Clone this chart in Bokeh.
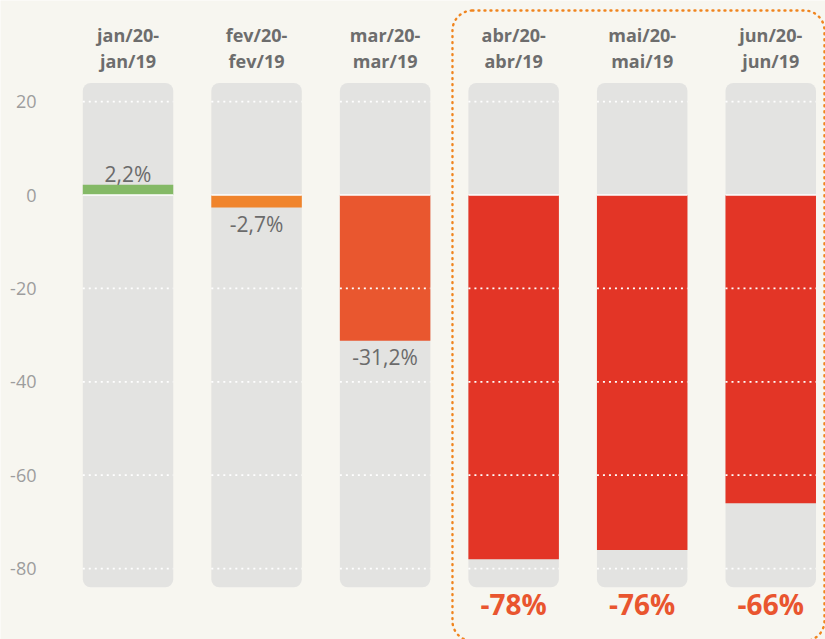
from bokeh.plotting import figure
from bokeh.models import Range1d
from bokeh.core.properties import value
from bokeh.embed import file_html
from bokeh.resources import INLINE

# ---- data ----
categories = ["jan/20-\njan/19", "fev/20-\nfev/19", "mar/20-\nmar/19",
              "abr/20-\nabr/19", "mai/20-\nmai/19", "jun/20-\njun/19"]
changes = [2.2, -2.7, -31.2, -78, -76, -66]
change_labels = ["2,2%", "-2,7%", "-31,2%", "-78%", "-76%", "-66%"]
bar_colors = ["#84b966", "#f0842c", "#e9572f", "#e33526", "#e33526", "#e33526"]
y_ticks = [20, 0, -20, -40, -60, -80]
y_tick_labels = ["20", "0", "-20", "-40", "-60", "-80"]
dotted_grid = [20, -20, -40, -60, -80]
highlight_idx = [3, 4, 5]
track_top = 24
track_bottom = -84

BG = "#f7f6f0"
TRACK = "#e3e3e1"
FONT = "Open Sans"
W = 0.704

xs = list(range(len(categories)))

p = figure(width=825, height=639, output_backend="svg", toolbar_location=None,
           x_range=Range1d(-0.992, 5.426), y_range=Range1d(-95.18, 41.65),
           min_border=0)
p.background_fill_color = BG
p.border_fill_color = BG
p.outline_line_color = None
p.xgrid.visible = False
p.ygrid.visible = False
p.xaxis.visible = False
p.yaxis.visible = False

# highlight frame
p.quad(left=[min(highlight_idx) - 0.476], right=[max(highlight_idx) + 0.418],
       top=[39.5], bottom=[-95.5],
       fill_color=None, line_color="#f0851f", line_width=2.4, line_dash="1 5",
       line_cap="round", border_radius=20)

# tracks
p.vbar(x=xs, width=W, top=[track_top] * len(xs), bottom=[track_bottom] * len(xs),
       fill_color=TRACK, line_color=None, border_radius=8)

# value bars
p.vbar(x=xs, width=W, top=[max(v, 0) for v in changes], bottom=[min(v, 0) for v in changes],
       fill_color=bar_colors, line_color=None)

# dotted gridlines inside tracks
gx0, gx1, gy = [], [], []
for i in xs:
    for g in dotted_grid:
        gx0.append(i - W / 2)
        gx1.append(i + W / 2)
        gy.append(g)
p.segment(x0=gx0, x1=gx1, y0=gy, y1=gy, line_color="white", line_width=1.8, line_dash="2 4")
p.segment(x0=[i - W / 2 for i in xs], x1=[i + W / 2 for i in xs], y0=[0] * len(xs), y1=[0] * len(xs),
          line_color="white", line_width=1.5)

# y tick labels
p.text(x=[-0.712] * len(y_ticks), y=y_ticks, text=y_tick_labels,
       text_align="right", text_baseline="middle", text_font=value(FONT),
       text_font_size="18px", text_color="#9d9d9d")

# category labels
p.text(x=xs, y=[track_top] * len(xs), text=categories, y_offset=-35,
       text_align="center", text_baseline="middle", text_font=value(FONT),
       text_font_style="bold", text_font_size="18px", text_color="#6d6d6d", text_line_height=1.1)

# value labels
small = [i for i in xs if i not in highlight_idx]
pos = [i for i in small if changes[i] >= 0]
neg = [i for i in small if changes[i] < 0]
p.text(x=pos, y=[changes[i] for i in pos], text=[change_labels[i] for i in pos], y_offset=-11,
       text_align="center", text_baseline="middle", text_font=value(FONT),
       text_font_size="21px", text_color="#6b6b6b")
p.text(x=neg, y=[changes[i] for i in neg], text=[change_labels[i] for i in neg], y_offset=16,
       text_align="center", text_baseline="middle", text_font=value(FONT),
       text_font_size="21px", text_color="#6b6b6b")
p.text(x=highlight_idx, y=[track_bottom] * len(highlight_idx),
       text=[change_labels[i] for i in highlight_idx], y_offset=17,
       text_align="center", text_baseline="middle", text_font=value(FONT),
       text_font_style="bold", text_font_size="28px", text_color="#e9552f")

open("out.html", "w").write(file_html(p, INLINE))
